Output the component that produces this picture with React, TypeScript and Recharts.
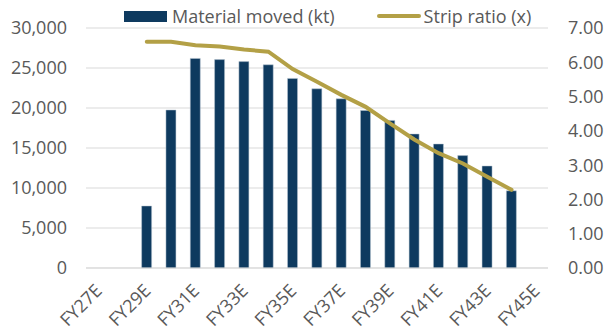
import React from 'react'
import {
  ComposedChart,
  Bar,
  Line,
  XAxis,
  YAxis,
  CartesianGrid
} from 'recharts'

document.body.style.margin = '0'

const categories = [
  'FY27E', 'FY28E', 'FY29E', 'FY30E', 'FY31E', 'FY32E', 'FY33E', 'FY34E', 'FY35E', 'FY36E',
  'FY37E', 'FY38E', 'FY39E', 'FY40E', 'FY41E', 'FY42E', 'FY43E', 'FY44E', 'FY45E'
]
const materialMoved = [
  null, null, 7750, 19750, 26200, 26050, 25800, 25400, 23700, 22400,
  21150, 19700, 18450, 16750, 15500, 14050, 12750, 9650, null
]
const stripRatio = [
  null, null, 6.6, 6.6, 6.5, 6.46, 6.37, 6.31, 5.8, 5.43,
  5.05, 4.7, 4.22, 3.75, 3.35, 3.05, 2.66, 2.28, null
]
const leftTicks = [0, 5000, 10000, 15000, 20000, 25000, 30000]
const rightTicks = [0, 1, 2, 3, 4, 5, 6, 7]

const BAR_COLOR = '#0E3A5F'
const LINE_COLOR = '#B3A046'
const TEXT_COLOR = '#595959'
const FONT = '"Open Sans", "Noto Sans", sans-serif'
const FONT_SIZE = 18

const data = categories.map((c, i) => ({
  name: c,
  material: materialMoved[i],
  strip: stripRatio[i]
}))

// rotated category labels, text ends just right of the tick
function XTick(props: any) {
  const { x, payload } = props
  const tx = x + 5
  const ty = 292
  return (
    <text
      x={tx}
      y={ty}
      transform={`rotate(-45 ${tx} ${ty})`}
      textAnchor="end"
      fill={TEXT_COLOR}
      fontSize={FONT_SIZE}
      fontFamily={FONT}
    >
      {payload.value}
    </text>
  )
}

export default function App() {
  const tickStyle = { fill: TEXT_COLOR, fontSize: FONT_SIZE, fontFamily: FONT }
  return (
    <div style={{ position: 'relative', width: 609, height: 332, background: '#fff' }}>
      <ComposedChart width={609} height={332} data={data} margin={{ top: 28, right: 0, bottom: 0, left: 0 }}>
        <CartesianGrid yAxisId="left" vertical={false} stroke="#D9D9D9" />
        <XAxis
          dataKey="name"
          interval={1}
          height={64}
          tickLine={false}
          axisLine={{ stroke: '#D9D9D9' }}
          tick={<XTick />}
        />
        <YAxis
          yAxisId="left"
          width={86}
          domain={[0, 30000]}
          ticks={leftTicks}
          tickFormatter={(v: number) => v.toLocaleString('en-US')}
          axisLine={false}
          tickLine={false}
          tickSize={0}
          tickMargin={19}
          tick={tickStyle}
        />
        <YAxis
          yAxisId="right"
          orientation="right"
          width={61}
          domain={[0, 7]}
          ticks={rightTicks}
          tickFormatter={(v: number) => v.toFixed(2)}
          axisLine={false}
          tickLine={false}
          tickSize={0}
          tickMargin={20}
          tick={tickStyle}
        />
        <Bar
          yAxisId="left"
          dataKey="material"
          fill={BAR_COLOR}
          stroke="#B8C6D3"
          strokeWidth={0.5}
          barSize={10}
          isAnimationActive={false}
        />
        <Line
          yAxisId="right"
          dataKey="strip"
          stroke={LINE_COLOR}
          strokeWidth={4}
          strokeLinecap="round"
          dot={false}
          type="linear"
          isAnimationActive={false}
        />
      </ComposedChart>
      <div
        style={{
          position: 'absolute',
          top: 4,
          left: 124,
          display: 'flex',
          alignItems: 'center',
          fontFamily: FONT,
          fontSize: FONT_SIZE,
          color: TEXT_COLOR,
          whiteSpace: 'nowrap'
        }}
      >
        <span style={{ display: 'inline-block', width: 43, height: 11, background: BAR_COLOR, marginRight: 5 }} />
        <span>Material moved (kt)</span>
        <span
          style={{
            display: 'inline-block',
            width: 44,
            height: 4,
            borderRadius: 2,
            background: LINE_COLOR,
            marginLeft: 42,
            marginRight: 3
          }}
        />
        <span>Strip ratio (x)</span>
      </div>
    </div>
  )
}
